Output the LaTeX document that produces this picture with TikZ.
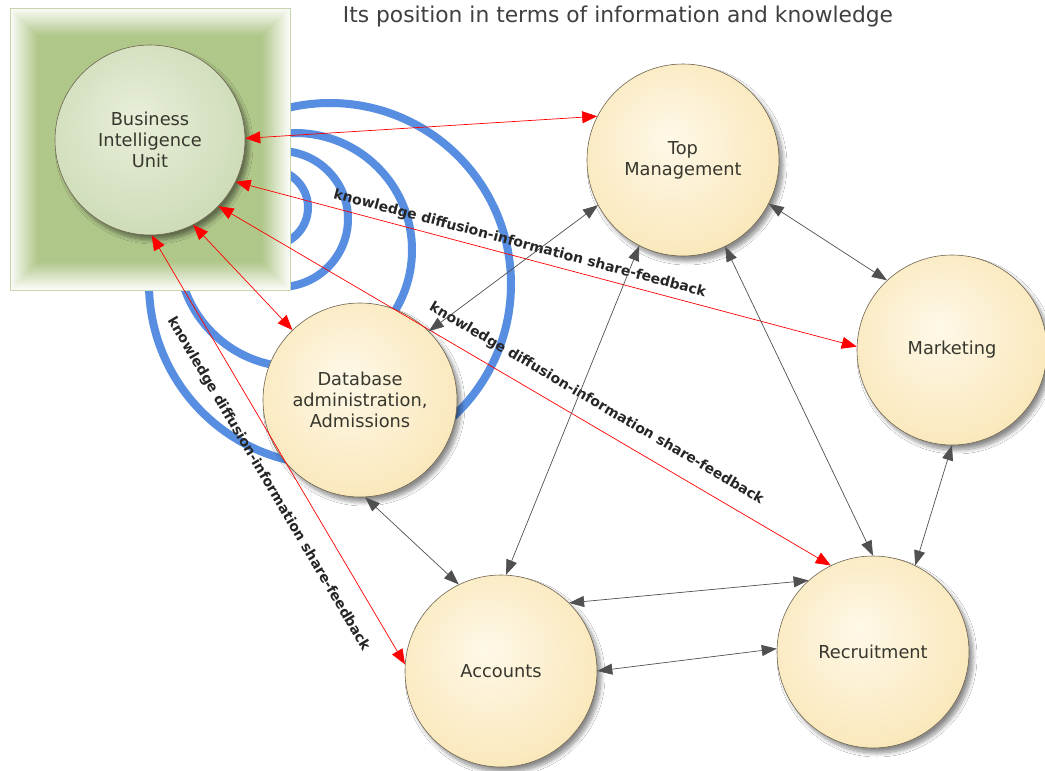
\documentclass[tikz,border=0pt]{standalone}
\usepackage{fontspec}
\setmainfont{DejaVu Sans}
\usetikzlibrary{arrows.meta,shadows,shadows.blur}
\definecolor{boxgreen}{RGB}{176,199,138}
\definecolor{boxedge}{RGB}{200,212,176}
\definecolor{arcblue}{RGB}{88,142,226}
\definecolor{edgegrey}{RGB}{110,100,80}
\definecolor{arrowgrey}{RGB}{80,80,80}
\definecolor{txtgrey}{RGB}{55,55,45}
\pgfdeclareradialshading{creamball}{\pgfpoint{-4bp}{6bp}}{%
  rgb(0bp)=(0.996,0.973,0.910);
  rgb(25bp)=(0.984,0.918,0.757);
  rgb(45bp)=(0.965,0.855,0.600);
  rgb(50bp)=(0.960,0.845,0.580)}
\pgfdeclareradialshading{greenballsh}{\pgfpoint{-4bp}{6bp}}{%
  rgb(0bp)=(0.910,0.937,0.855);
  rgb(25bp)=(0.820,0.871,0.737);
  rgb(45bp)=(0.725,0.800,0.600);
  rgb(50bp)=(0.710,0.790,0.580)}
\begin{document}
\begin{tikzpicture}[x=1pt,y=-1pt,
  bubble/.style={circle, minimum size=#1, inner sep=0pt, draw=edgegrey, line width=0.6pt,
    align=center, text=txtgrey, font=\fontsize{17.8}{21}\selectfont,
    blur shadow={shadow xshift=4pt, shadow yshift=-5pt, shadow blur steps=10, shadow blur radius=4pt, shadow opacity=45}},
  cream/.style={bubble=#1, shading=creamball},
  greenball/.style={bubble=#1, shading=greenballsh},
  arcline/.style={draw=arcblue, line width=8pt},
  redlink/.style={draw=red, line width=0.7pt, {Triangle[length=15pt,width=12pt]}-{Triangle[length=15pt,width=12pt]}},
  greylink/.style={draw=arrowgrey, line width=0.7pt, {Triangle[length=15pt,width=11pt]}-{Triangle[length=15pt,width=11pt]}},
  lbl/.style={sloped, font=\bfseries\fontsize{14}{16}\selectfont, text=black!85, inner sep=1pt}
]
\useasboundingbox (0,0) rectangle (1045,771);
\fill[white] (0,0) rectangle (1045,771);

% concentric arcs
\draw[arcline] (330,284) circle[radius=181pt];
\draw[arcline] (295,250) circle[radius=117pt];
\draw[arcline] (280,219) circle[radius=68pt];
\draw[arcline] (270,207.5) circle[radius=38pt];

% BI box
\foreach \i in {0,...,28}{
  \pgfmathsetmacro\p{min(100,6+\i*3.4)}
  \fill[boxgreen!\p!white] (10+\i,8+\i) rectangle (290-\i,290-\i);
}
\draw[boxedge, line width=0.8pt] (10,8) rectangle (290,290);

% title
\node[font=\fontsize{21.8}{26}\selectfont, text=black!75] (title) at (618,16)
  {Its position in terms of information and knowledge};

% circles
\node[greenball=190pt] (bi) at (150,140) {Business\\Intelligence\\Unit};
\node[cream=192pt] (top) at (683,160) {Top\\Management};
\node[cream=190pt] (mkt) at (952,350) {Marketing};
\node[cream=194pt] (db) at (360,400) {Database\\administration,\\Admissions};
\node[cream=192pt] (acc) at (501,671) {Accounts};
\node[cream=192pt] (rec) at (873,652) {Recruitment};

% red links
\draw[redlink] (bi.1) -- (top.153.4);
\draw[redlink] (bi.-26.3) -- node[lbl, pos=0.452, yshift=13pt]
  {knowledge diffusion-information share-feedback} (mkt.178.8);
\draw[redlink] (bi.-44.2) -- node[lbl, pos=0.6, yshift=21pt]
  {knowledge diffusion-information share-feedback} (rec.116.3);
\draw[redlink] (bi.-63.2) -- (db.134.2);
\draw[redlink] (bi.-89.4) -- node[lbl, pos=0.549, yshift=-26pt]
  {knowledge diffusion-information share-feedback} (acc.176.4);

% grey links
\draw[greylink] (top.-152.1) -- (db.45.8);
\draw[greylink] (top.-27.3) -- (mkt.133.3);
\draw[greylink] (top.-117.8) -- (acc.87.5);
\draw[greylink] (top.-64.2) -- (rec.90);
\draw[greylink] (mkt.-90) -- (rec.64);
\draw[greylink] (db.-87) -- (acc.116.6);
\draw[greylink] (acc.45.4) -- (rec.132.9);
\draw[greylink] (acc.0.6) -- (rec.178.8);
\end{tikzpicture}
\end{document}
